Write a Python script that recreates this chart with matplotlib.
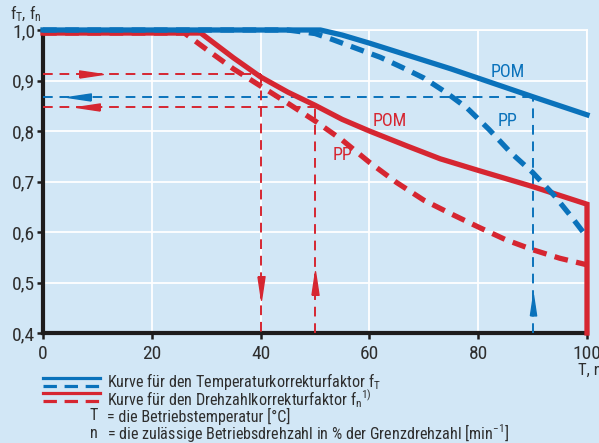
import matplotlib
matplotlib.use('Agg')
import matplotlib.pyplot as plt
from matplotlib import font_manager
from matplotlib.lines import Line2D

# Schmale Schrift wählen, falls vorhanden
familie = 'DejaVu Sans'
for kandidat in ['Liberation Sans Narrow', 'Roboto Condensed', 'Open Sans']:
    try:
        font_manager.findfont(kandidat, fallback_to_default=False)
        familie = kandidat
        break
    except Exception:
        pass

plt.rcParams['font.family'] = [familie, 'DejaVu Sans']
plt.rcParams['mathtext.fontset'] = 'custom'
plt.rcParams['mathtext.rm'] = familie
plt.rcParams['mathtext.it'] = familie

# Daten
t_pom_temp = [0, 51, 55, 60, 75, 90, 100]
f_pom_temp = [1.0, 1.0, 0.99, 0.974, 0.923, 0.868, 0.832]

t_pp_temp = [0, 45, 50, 53, 58, 62, 66, 70, 74, 78, 82, 86, 90, 94, 97, 100]
f_pp_temp = [1.0, 1.0, 0.993, 0.982, 0.962, 0.946, 0.926, 0.905, 0.877, 0.845, 0.803, 0.757, 0.718, 0.672, 0.632, 0.59]

t_pom_n = [0, 29, 35, 40, 45, 50, 55, 60, 67, 73, 80, 90, 100, 100]
f_pom_n = [0.994, 0.994, 0.945, 0.907, 0.877, 0.851, 0.823, 0.80, 0.77, 0.745, 0.722, 0.69, 0.655, 0.4]

t_pp_n = [0, 26, 30, 35, 40, 45, 50, 55, 60, 65, 70, 75, 80, 85, 90, 95, 100]
f_pp_n = [0.994, 0.994, 0.962, 0.923, 0.889, 0.855, 0.82, 0.782, 0.738, 0.698, 0.663, 0.636, 0.61, 0.585, 0.565, 0.548, 0.535]

# Ablesebeispiele: (T, f)
bsp_blau = (90, 0.868)
bsp_rot_1 = (40, 0.912)
bsp_rot_2 = (50, 0.847)

x_ticks = [0, 20, 40, 60, 80, 100]
y_ticks = [0.4, 0.5, 0.6, 0.7, 0.8, 0.9, 1.0]
y_labels = ['0,4', '0,5', '0,6', '0,7', '0,8', '0,9', '1,0']

BLAU = '#0a72bb'
ROT = '#d62631'
HG = '#d2e7f6'
TXT = '#2e2e2e'

fig = plt.figure(figsize=(5.99, 4.43), dpi=100, facecolor=HG)
ax = fig.add_axes([43 / 599, 1 - 333 / 443, 544 / 599, 303 / 443])
ax.set_facecolor(HG)
ax.set_xlim(0, 100)
ax.set_ylim(0.4, 1.0)

ax.grid(True, color='white', linewidth=1.3)
ax.set_axisbelow(True)
for s in ['top', 'right']:
    ax.spines[s].set_color('white')
    ax.spines[s].set_linewidth(1.3)
    ax.spines[s].set_zorder(0.5)
for s in ['left', 'bottom']:
    ax.spines[s].set_color('#1e1c1c')
    ax.spines[s].set_linewidth(3)

ax.set_xticks(x_ticks)
ax.set_xticklabels([str(v) for v in x_ticks])
ax.set_yticks(y_ticks)
ax.set_yticklabels(y_labels)
ax.tick_params(axis='both', colors='#1e1c1c', labelcolor=TXT, labelsize=14,
               length=4.5, width=1.8, direction='out')
ax.tick_params(axis='y', pad=1)
ax.tick_params(axis='x', pad=4)

# Pfeilmarker
def pfeil(richtung):
    if richtung == 'r':
        return [(-1, -0.3), (1, 0), (-1, 0.3), (-1, -0.3)]
    if richtung == 'l':
        return [(1, -0.3), (-1, 0), (1, 0.3), (1, -0.3)]
    if richtung == 'u':
        return [(-0.3, -1), (0, 1), (0.3, -1), (-0.3, -1)]
    return [(-0.3, 1), (0, -1), (0.3, 1), (-0.3, 1)]

dünn = dict(linewidth=1.4, dashes=(5, 3.5), zorder=3)
pf = dict(linestyle='none', zorder=3)

# Ablesebeispiel blau
ax.plot([bsp_blau[0], bsp_blau[0]], [0.4, bsp_blau[1]], color=BLAU, **dünn)
ax.plot([0, bsp_blau[0]], [bsp_blau[1], bsp_blau[1]], color=BLAU, **dünn)
ax.plot([bsp_blau[0]], [0.455], marker=pfeil('u'), markersize=15, color=BLAU, **pf)
ax.plot([6.6], [bsp_blau[1]], marker=pfeil('l'), markersize=17, color=BLAU, **pf)

# Ablesebeispiele rot
ax.plot([0, bsp_rot_1[0]], [bsp_rot_1[1], bsp_rot_1[1]], color=ROT, **dünn)
ax.plot([bsp_rot_1[0], bsp_rot_1[0]], [bsp_rot_1[1], 0.4], color=ROT, **dünn)
ax.plot([8.8], [bsp_rot_1[1]], marker=pfeil('r'), markersize=17, color=ROT, **pf)
ax.plot([bsp_rot_1[0]], [0.49], marker=pfeil('d'), markersize=17, color=ROT, **pf)

ax.plot([0, bsp_rot_2[0]], [bsp_rot_2[1], bsp_rot_2[1]], color=ROT, **dünn)
ax.plot([bsp_rot_2[0], bsp_rot_2[0]], [0.4, bsp_rot_2[1]], color=ROT, **dünn)
ax.plot([8.2], [bsp_rot_2[1]], marker=pfeil('l'), markersize=17, color=ROT, **pf)
ax.plot([bsp_rot_2[0]], [0.5], marker=pfeil('u'), markersize=17, color=ROT, **pf)

# Kurven
dick = 3.8
ax.plot(t_pp_n, f_pp_n, color=ROT, linewidth=dick, dashes=(2.6, 1.6), zorder=4)
ax.plot(t_pom_n, f_pom_n, color=ROT, linewidth=dick, solid_joinstyle='miter', zorder=4)
ax.plot(t_pp_temp, f_pp_temp, color=BLAU, linewidth=dick, dashes=(2.6, 1.6), zorder=4)
ax.plot(t_pom_temp, f_pom_temp, color=BLAU, linewidth=dick, zorder=4)
for l in ax.lines:
    l.set_clip_on(False)

ax.text(85.5, 0.917, 'POM', color=BLAU, fontsize=13, ha='center', va='center')
ax.text(85.3, 0.82, 'PP', color=BLAU, fontsize=13, ha='center', va='center')
ax.text(63.8, 0.82, 'POM', color=ROT, fontsize=13, ha='center', va='center')
ax.text(55.0, 0.752, 'PP', color=ROT, fontsize=13, ha='center', va='center')

# Achsbeschriftungen
fig.text(10 / 599, 1 - 14 / 443, r'f$_\mathregular{T}$, f$_\mathregular{n}$', color=TXT,
         fontsize=12, va='center', ha='left')
fig.text(578 / 599, 1 - 370 / 443, 'T, n', color=TXT, fontsize=12, va='center', ha='left')

# Legende
def fy(py):
    return 1 - py / 443

for py, farbe, stil in [(378, BLAU, '-'), (385.5, BLAU, '--'), (393, ROT, '-'), (400.5, ROT, '--')]:
    ln = Line2D([43 / 599, 100 / 599], [fy(py), fy(py)], transform=fig.transFigure,
                color=farbe, linewidth=2.3)
    if stil == '--':
        ln.set_dashes((4.2, 2.4))
    fig.add_artist(ln)

gr = 11.6
fig.text(107 / 599, fy(381), r'Kurve für den Temperaturkorrekturfaktor f$_\mathregular{T}$',
         color=TXT, fontsize=gr, va='center')
fig.text(107 / 599, fy(398.5), r'Kurve für den Drehzahlkorrekturfaktor f$_\mathregular{n}$$^\mathregular{1)}$',
         color=TXT, fontsize=gr, va='center')
fig.text(94 / 599, fy(416), 'T', color=TXT, fontsize=gr, va='center', ha='center')
fig.text(107 / 599, fy(416), '= die Betriebstemperatur [°C]', color=TXT, fontsize=gr, va='center')
fig.text(94 / 599, fy(433), 'n', color=TXT, fontsize=gr, va='center', ha='center')
fig.text(107 / 599, fy(433), r'= die zulässige Betriebsdrehzahl in % der Grenzdrehzahl [min$^\mathregular{−1}$]',
         color=TXT, fontsize=gr, va='center')

fig.savefig('out.png', dpi=100, facecolor=HG)
